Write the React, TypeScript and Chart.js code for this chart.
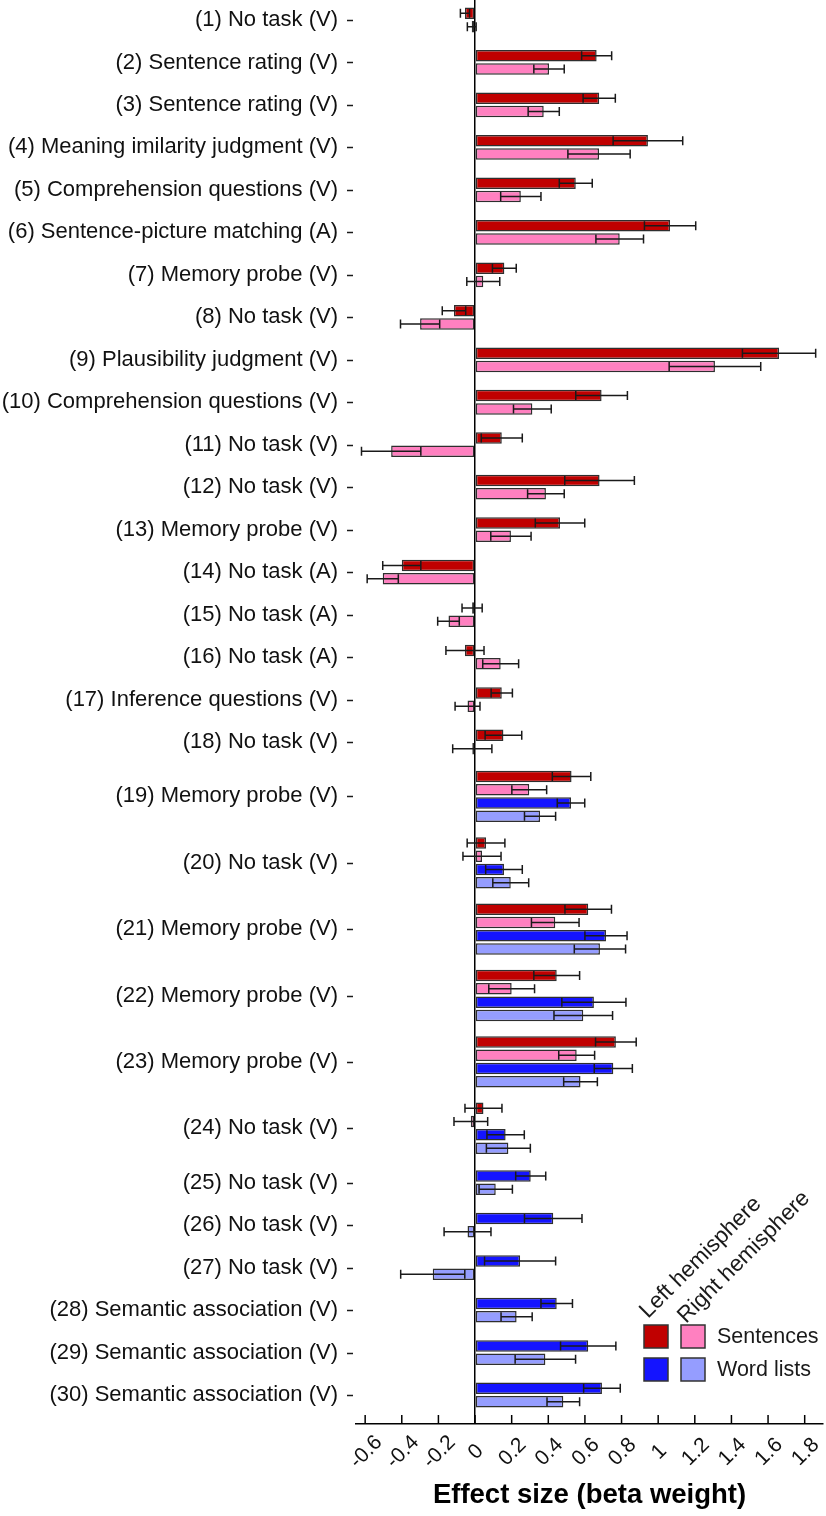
import React, { useEffect, useRef } from "react";
import { Chart, registerables } from "chart.js";

Chart.register(...registerables);

const rowLabels: string[] = [
  "(1) No task (V)",
  "(2) Sentence rating (V)",
  "(3) Sentence rating (V)",
  "(4) Meaning imilarity judgment (V)",
  "(5) Comprehension questions (V)",
  "(6) Sentence-picture matching (A)",
  "(7) Memory probe (V)",
  "(8) No task (V)",
  "(9) Plausibility judgment (V)",
  "(10) Comprehension questions (V)",
  "(11) No task (V)",
  "(12) No task (V)",
  "(13) Memory probe (V)",
  "(14) No task (A)",
  "(15) No task (A)",
  "(16) No task (A)",
  "(17) Inference questions (V)",
  "(18) No task (V)",
  "(19) Memory probe (V)",
  "(20) No task (V)",
  "(21) Memory probe (V)",
  "(22) Memory probe (V)",
  "(23) Memory probe (V)",
  "(24) No task (V)",
  "(25) No task (V)",
  "(26) No task (V)",
  "(27) No task (V)",
  "(28) Semantic association (V)",
  "(29) Semantic association (V)",
  "(30) Semantic association (V)",
];

const N6 = [null, null, null, null, null, null];
const N18 = [...N6, ...N6, ...N6];

// Left hemisphere, sentences
const lhSentences: (number | null)[] = [
  -0.055, 0.664, 0.678, 0.944, 0.55, 1.065, 0.16, -0.115, 1.66, 0.691, 0.146, 0.68,
  0.464, -0.4, -0.016, -0.055, 0.146, 0.155, 0.527, 0.06, 0.618, 0.446, 0.769, 0.046,
  ...N6,
];
const lhSentencesErr: (number | null)[] = [
  0.025, 0.082, 0.088, 0.19, 0.09, 0.14, 0.065, 0.064, 0.2, 0.141, 0.112, 0.19,
  0.135, 0.104, 0.055, 0.104, 0.058, 0.1, 0.105, 0.103, 0.127, 0.125, 0.111, 0.101,
  ...N6,
];

// Right hemisphere, sentences
const rhSentences: (number | null)[] = [
  -0.018, 0.404, 0.375, 0.677, 0.25, 0.79, 0.045, -0.3, 1.31, 0.313, -0.458, 0.387,
  0.196, -0.504, -0.145, 0.14, -0.041, -0.015, 0.296, 0.038, 0.438, 0.2, 0.555, -0.023,
  ...N6,
];
const rhSentencesErr: (number | null)[] = [
  0.024, 0.083, 0.085, 0.17, 0.11, 0.13, 0.09, 0.107, 0.25, 0.103, 0.162, 0.1,
  0.11, 0.085, 0.059, 0.098, 0.068, 0.107, 0.095, 0.104, 0.13, 0.125, 0.098, 0.092,
  ...N6,
];

// Left hemisphere, word lists
const lhWords: (number | null)[] = [
  ...N18,
  0.524, 0.158, 0.715, 0.649, 0.755, 0.167, 0.304, 0.427, 0.246, 0.446, 0.618, 0.693,
];
const lhWordsErr: (number | null)[] = [
  ...N18,
  0.075, 0.1, 0.115, 0.175, 0.104, 0.102, 0.082, 0.157, 0.194, 0.086, 0.151, 0.1,
];

// Right hemisphere, word lists
const rhWords: (number | null)[] = [
  ...N18,
  0.355, 0.195, 0.682, 0.591, 0.576, 0.182, 0.113, -0.041, -0.231, 0.227, 0.384, 0.482,
];
const rhWordsErr: (number | null)[] = [
  ...N18,
  0.085, 0.098, 0.14, 0.16, 0.092, 0.12, 0.091, 0.128, 0.175, 0.085, 0.165, 0.089,
];

const xTickValues = [-0.6, -0.4, -0.2, 0, 0.2, 0.4, 0.6, 0.8, 1, 1.2, 1.4, 1.6, 1.8];
const xTickLabels = ["-0.6", "-0.4", "-0.2", "0", "0.2", "0.4", "0.6", "0.8", "1", "1.2", "1.4", "1.6", "1.8"];
const xTitle = "Effect size (beta weight)";
const legendColumns = ["Left hemisphere", "Right hemisphere"];
const legendRows = ["Sentences", "Word lists"];

const FONT = '"Liberation Sans", Arial, Helvetica, sans-serif';
const COLORS = ["#C00000", "#FF80C0", "#1414FF", "#959DFF"];

export default function App() {
  const ref = useRef<HTMLCanvasElement>(null);

  useEffect(() => {
    const series = [
      { name: "Left hemisphere, Sentences", values: lhSentences, errs: lhSentencesErr, color: COLORS[0] },
      { name: "Right hemisphere, Sentences", values: rhSentences, errs: rhSentencesErr, color: COLORS[1] },
      { name: "Left hemisphere, Word lists", values: lhWords, errs: lhWordsErr, color: COLORS[2] },
      { name: "Right hemisphere, Word lists", values: rhWords, errs: rhWordsErr, color: COLORS[3] },
    ];

    // row layout in "bar slot" units
    const counts = rowLabels.map((_, i) => series.filter((s) => s.values[i] != null).length);
    const centers: number[] = [];
    let c = 0;
    counts.forEach((n, i) => {
      if (i > 0) {
        const m = counts[i - 1] + n;
        c += m / 2 + (m <= 4 ? 1.2 : m <= 6 ? 1.1 : 1.0);
      }
      centers.push(c);
    });

    const datasets = series.map((s) => {
      const data: any[] = [];
      rowLabels.forEach((_, i) => {
        if (s.values[i] == null) return;
        const present = series.filter((t) => t.values[i] != null);
        const j = present.indexOf(s);
        data.push({ x: s.values[i], y: centers[i] + j - (present.length - 1) / 2, err: s.errs[i] });
      });
      return {
        label: s.name,
        data,
        backgroundColor: s.color,
        borderColor: "#2e2e2e",
        borderWidth: 1.5,
        borderSkipped: false,
        grouped: false,
        categoryPercentage: 1,
        barPercentage: 0.87,
        maxBarThickness: 11.5,
      };
    });

    const first = centers[0];
    const last = centers[centers.length - 1];
    const pitch = (1395 - 20) / (last - first);
    const yMin = first - 20 / pitch;
    const yMax = last + 29 / pitch;

    const overlay = {
      id: "overlay",
      afterDatasetsDraw(chart: any) {
        const { ctx } = chart;
        const xs = chart.scales.x;
        const ys = chart.scales.y;
        ctx.save();
        ctx.strokeStyle = "#1a1a1a";
        ctx.lineWidth = 1.5;
        chart.data.datasets.forEach((ds: any) => {
          ds.data.forEach((p: any) => {
            if (p.err == null) return;
            const py = ys.getPixelForValue(p.y);
            const x1 = xs.getPixelForValue(p.x - p.err);
            const x2 = xs.getPixelForValue(p.x + p.err);
            const h = 4.5;
            ctx.beginPath();
            ctx.moveTo(x1, py);
            ctx.lineTo(x2, py);
            ctx.moveTo(x1, py - h);
            ctx.lineTo(x1, py + h);
            ctx.moveTo(x2, py - h);
            ctx.lineTo(x2, py + h);
            ctx.stroke();
          });
        });
        ctx.restore();
      },
      afterDraw(chart: any) {
        const { ctx, chartArea } = chart;
        const xs = chart.scales.x;
        const ys = chart.scales.y;
        ctx.save();
        // y tick dashes
        ctx.strokeStyle = "#1a1a1a";
        ctx.lineWidth = 1.5;
        ys.ticks.forEach((t: any) => {
          const py = Math.round(ys.getPixelForValue(t.value)) + 0.5;
          ctx.beginPath();
          ctx.moveTo(chartArea.left - 9, py);
          ctx.lineTo(chartArea.left - 3, py);
          ctx.stroke();
        });
        // x tick marks (inward) and rotated labels
        ctx.strokeStyle = "#000";
        ctx.fillStyle = "#111";
        ctx.font = `21px ${FONT}`;
        ctx.textAlign = "center";
        ctx.textBaseline = "middle";
        xs.ticks.forEach((t: any, i: number) => {
          const px = xs.getPixelForValue(t.value);
          ctx.beginPath();
          ctx.moveTo(px, chartArea.bottom);
          ctx.lineTo(px, chartArea.bottom - 9);
          ctx.stroke();
          ctx.save();
          ctx.translate(px + 1, chartArea.bottom + 28);
          ctx.rotate(-Math.PI / 4);
          ctx.fillText(xTickLabels[i], 0, 0);
          ctx.restore();
        });
        // axis title
        ctx.font = `bold 27.5px ${FONT}`;
        ctx.fillStyle = "#000";
        ctx.fillText(xTitle, (chartArea.left + chartArea.right) / 2, chartArea.bottom + 71);

        // legend
        const sw = 24;
        const sh = 23;
        const colX = [644, 681];
        const rowY = [1325, 1358];
        for (let r = 0; r < 2; r++) {
          for (let k = 0; k < 2; k++) {
            ctx.fillStyle = COLORS[r * 2 + k];
            ctx.fillRect(colX[k], rowY[r], sw, sh);
            ctx.strokeStyle = "#333";
            ctx.lineWidth = 1.5;
            ctx.strokeRect(colX[k], rowY[r], sw, sh);
          }
          ctx.fillStyle = "#1a1a1a";
          ctx.font = `21.5px ${FONT}`;
          ctx.textAlign = "left";
          ctx.textBaseline = "middle";
          ctx.fillText(legendRows[r], 717, rowY[r] + sh / 2 + 1);
        }
        const startPts = [
          [648, 1319],
          [686, 1324],
        ];
        ctx.font = `22.5px ${FONT}`;
        ctx.textAlign = "left";
        ctx.textBaseline = "alphabetic";
        legendColumns.forEach((txt, k) => {
          ctx.save();
          ctx.translate(startPts[k][0], startPts[k][1]);
          ctx.rotate(-Math.PI / 4);
          ctx.fillText(txt, 0, 0);
          ctx.restore();
        });
        ctx.restore();
      },
    };

    const chart = new Chart(ref.current as HTMLCanvasElement, {
      type: "bar",
      data: { datasets: datasets as any },
      options: {
        indexAxis: "y",
        animation: false,
        responsive: false,
        layout: { padding: { top: 0, left: 0, right: 3, bottom: 92 } },
        plugins: { legend: { display: false }, tooltip: { enabled: false } },
        scales: {
          x: {
            type: "linear",
            min: -0.65,
            max: 1.9,
            offset: false,
            afterBuildTicks: (axis: any) => {
              axis.ticks = xTickValues.map((v) => ({ value: v }));
            },
            afterFit: (axis: any) => {
              axis.height = 0;
              axis.paddingLeft = 0;
              axis.paddingRight = 0;
            },
            ticks: { display: false },
            grid: {
              offset: false,
              drawTicks: false,
              lineWidth: 1.5,
              color: (ctx: any) => (ctx.tick && ctx.tick.value === 0 ? "#000" : "rgba(0,0,0,0)"),
            },
            border: { display: true, color: "#000", width: 1.5 },
          },
          y: {
            type: "linear",
            reverse: true,
            offset: false,
            min: yMin,
            max: yMax,
            afterBuildTicks: (axis: any) => {
              axis.ticks = centers.map((v) => ({ value: v }));
            },
            afterFit: (axis: any) => {
              axis.width = 356;
              axis.paddingTop = 0;
              axis.paddingBottom = 0;
            },
            ticks: {
              autoSkip: false,
              padding: 18,
              color: "#111",
              font: { family: FONT, size: 22 },
              callback: (_v: any, i: number) => rowLabels[i],
            },
            grid: { display: false, drawTicks: false, offset: false },
            border: { display: false },
          },
        },
      },
      plugins: [overlay],
    } as any);

    return () => chart.destroy();
  }, []);

  return (
    <div style={{ position: "absolute", left: 0, top: 0, width: 826, height: 1516 }}>
      <canvas ref={ref} width={826} height={1516} style={{ display: "block" }} />
    </div>
  );
}
